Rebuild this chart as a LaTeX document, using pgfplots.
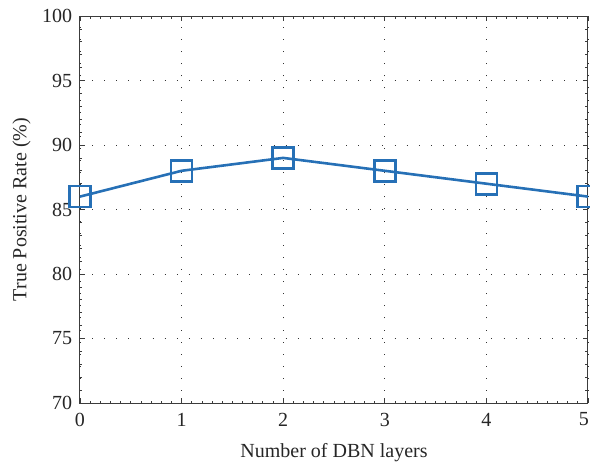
\documentclass[border=0pt]{standalone}
\usepackage{fontspec}
\setmainfont{Liberation Serif}
\usepackage{pgfplots}
\pgfplotsset{compat=1.18}
\definecolor{mblue}{RGB}{38,112,182}
\definecolor{axgray}{RGB}{60,60,60}
\begin{document}
\fontsize{20}{23}\selectfont
\begin{tikzpicture}
\begin{axis}[
  at={(0pt,0pt)}, anchor=south west,
  scale only axis, width=508pt, height=387pt,
  xmin=0, xmax=5, ymin=70, ymax=100,
  xtick={0,1,2,3,4,5}, ytick={70,75,80,85,90,95,100},
  xticklabels={0,1,2,3,4,\hbox to 0pt{\hss 5\kern-1pt}},
  minor x tick num=9, minor y tick num=4,
  tick align=inside,
  major tick length=5pt, minor tick length=2.5pt,
  axis line style={axgray, line width=1pt},
  every tick/.style={axgray, line width=0.8pt},
  grid=major,
  major grid style={black!80, line width=0.8pt, dash pattern=on 0.9pt off 11.2pt},
  clip=false,
  tick label style={font=\fontsize{20}{23}\selectfont, text=black!85},
  /pgf/number format/assume math mode=true,
  xticklabel style={yshift=-3pt},
  yticklabel style={xshift=-1pt},
  xlabel={Number of DBN layers},
  ylabel={True Positive Rate (\%)},
  label style={font=\fontsize{20}{23}\selectfont, text=black!85},
  xlabel style={yshift=-4pt},
  ylabel style={yshift=-2pt},
]
\addplot[mblue, line width=2.6pt, mark=square, mark size=10.5pt, mark options={line width=2.6pt}]
  coordinates {(0,86) (1,88) (2,89) (3,88) (4,87) (5,86)};
\end{axis}
\pgfresetboundingbox
\useasboundingbox (-80pt,-66pt) rectangle (510pt,403pt);
\end{tikzpicture}
\end{document}
